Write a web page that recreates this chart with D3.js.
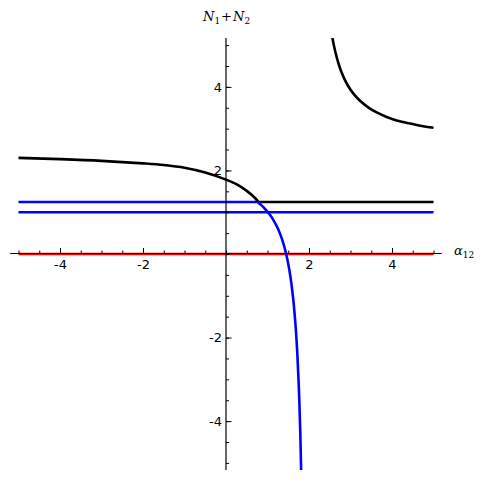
<!DOCTYPE html>
<html><head><meta charset="utf-8">
<script src="https://cdn.jsdelivr.net/npm/d3@7"></script>
<style>body{margin:0;background:#fff}svg{display:block}</style>
</head><body>
<svg id="c" width="483" height="481"></svg>
<script>
// ---- data ----
const xMajorTicks = [-4, -2, 2, 4];
const yMajorTicks = [-4, -2, 2, 4];
const xTickLabels = ["-4", "-2", "2", "4"];
const yTickLabels = ["-4", "-2", "2", "4"];

// black curve, left branch
const blackLeftX = [-5, -4, -3, -2, -1.5, -1, -0.5, 0, 0.25, 0.5, 0.7, 0.78];
const blackLeftY = [2.30, 2.27, 2.23, 2.17, 2.13, 2.065, 1.95, 1.78, 1.67, 1.51, 1.34, 1.245];
// black curve, right branch
const blackRightX = [2.5, 2.56, 2.6, 2.67, 2.75, 2.83, 2.95, 3.07, 3.25, 3.47, 3.67, 3.87, 4.07, 4.27, 4.5, 4.75, 5];
const blackRightY = [5.59, 5.20, 4.99, 4.70, 4.44, 4.24, 4.01, 3.84, 3.65, 3.48, 3.37, 3.28, 3.21, 3.16, 3.11, 3.06, 3.02];
// black horizontal segment
const blackFlatX = [0.78, 5];
const blackFlatY = [1.245, 1.245];
// blue falling curve
const blueCurveX = [0.771, 0.85, 0.95, 1.05, 1.15, 1.25, 1.35, 1.45, 1.55, 1.62, 1.68, 1.72, 1.76, 1.79, 1.82];
const blueCurveY = [1.236, 1.17, 1.071, 0.951, 0.801, 0.609, 0.354, 0.0, -0.526, -1.078, -1.768, -2.419, -3.327, -4.285, -5.649];
// blue horizontal lines
const blueFlat1X = [-5, 0.78];
const blueFlat1Y = [1.245, 1.245];
const blueFlat2X = [-5, 5];
const blueFlat2Y = [1.0, 1.0];
// red line on the x axis
const redX = [-5, 5];
const redY = [0, 0];

// ---- layout ----
const svg = d3.select("#c");
const x = d3.scaleLinear().domain([-5, 5]).range([18.5, 433.5]);
const y = d3.scaleLinear().domain([-5.17, 5.17]).range([470, 38]);
const xLim = [-5.2, 5.2];

svg.append("defs").append("clipPath").attr("id", "clip")
  .append("rect").attr("x", x(xLim[0])).attr("y", y(5.17))
  .attr("width", x(xLim[1]) - x(xLim[0])).attr("height", y(-5.17) - y(5.17));

const line = d3.line().x(d => x(d[0])).y(d => y(d[1]));
const lineC = d3.line().x(d => x(d[0])).y(d => y(d[1])).curve(d3.curveCatmullRom.alpha(0.5));
const zip = (a, b) => a.map((v, i) => [v, b[i]]);

const g = svg.append("g").attr("clip-path", "url(#clip)");
function draw(xs, ys, color, curved) {
  g.append("path").attr("d", (curved ? lineC : line)(zip(xs, ys)))
    .attr("fill", "none").attr("stroke", color).attr("stroke-width", 2.6)
    .attr("stroke-linejoin", "round");
}
draw(redX, redY, "#ff0000", false);
draw(blueFlat2X, blueFlat2Y, "#0000ff", false);
draw(blueFlat1X, blueFlat1Y, "#0000ff", false);
draw(blackFlatX, blackFlatY, "#000000", false);
draw(blueCurveX, blueCurveY, "#0000ff", true);
draw(blackLeftX, blackLeftY, "#000000", true);
draw(blackRightX, blackRightY, "#000000", true);

// ---- axes ----
const x0 = y(0), y0 = x(0);
const minorX = d3.range(-10, 11).map(d => d / 2);
const minorY = d3.range(-10, 11).map(d => d / 2);

// x axis line + ticks (ticks point up)
const xa = svg.append("g").attr("transform", `translate(0,${x0 - 0.5})`);
xa.call(d3.axisTop(x).tickValues(minorX).tickSize(3).tickFormat("").tickSizeOuter(0));
xa.select(".domain").attr("d", `M${x(xLim[0])},0H${x(xLim[1])}`);
xa.append("g").call(d3.axisTop(x).tickValues(xMajorTicks).tickSize(5.5).tickFormat("").tickSizeOuter(0))
  .select(".domain").remove();
// x tick labels
const xl = svg.append("g").attr("transform", `translate(0,${x0})`)
  .call(d3.axisBottom(x).tickValues(xMajorTicks).tickSize(0).tickPadding(6)
    .tickFormat((d, i) => xTickLabels[i]));
xl.select(".domain").remove();

// y axis line + ticks (ticks point right)
const ya = svg.append("g").attr("transform", `translate(${y0},0)`);
ya.call(d3.axisRight(y).tickValues(minorY).tickSize(3).tickFormat("").tickSizeOuter(0));
ya.select(".domain").attr("d", `M0,${y(5.17)}V${y(-5.17)}`);
ya.append("g").call(d3.axisRight(y).tickValues(yMajorTicks).tickSize(5.5).tickFormat("").tickSizeOuter(0))
  .select(".domain").remove();
const yl = svg.append("g").attr("transform", `translate(${y0},0)`)
  .call(d3.axisLeft(y).tickValues(yMajorTicks).tickSize(0).tickPadding(4)
    .tickFormat((d, i) => yTickLabels[i]));
yl.select(".domain").remove();

svg.selectAll(".domain").attr("stroke", "#000").attr("stroke-width", 1.2);
svg.selectAll(".tick line").attr("stroke", "#000").attr("stroke-width", 1);
svg.selectAll(".tick text").attr("font-family", "DejaVu Sans, sans-serif")
  .attr("font-size", 13).attr("fill", "#000");

// ---- axis labels ----
const t1 = svg.append("text").attr("x", 203).attr("y", 21)
  .attr("font-family", "DejaVu Serif, serif").attr("font-size", 13);
t1.append("tspan").attr("font-style", "italic").text("N");
t1.append("tspan").attr("font-size", 9).attr("dy", 3).text("1");
t1.append("tspan").attr("dy", -3).attr("dx", 1).text("+");
t1.append("tspan").attr("font-style", "italic").attr("dx", 1).text("N");
t1.append("tspan").attr("font-size", 9).attr("dy", 3).text("2");

const t2 = svg.append("text").attr("x", 454).attr("y", 255)
  .attr("font-family", "DejaVu Serif, serif").attr("font-size", 13);
t2.append("tspan").attr("font-style", "italic").text("α");
t2.append("tspan").attr("font-size", 9).attr("dy", 3).text("12");
</script>
</body></html>
